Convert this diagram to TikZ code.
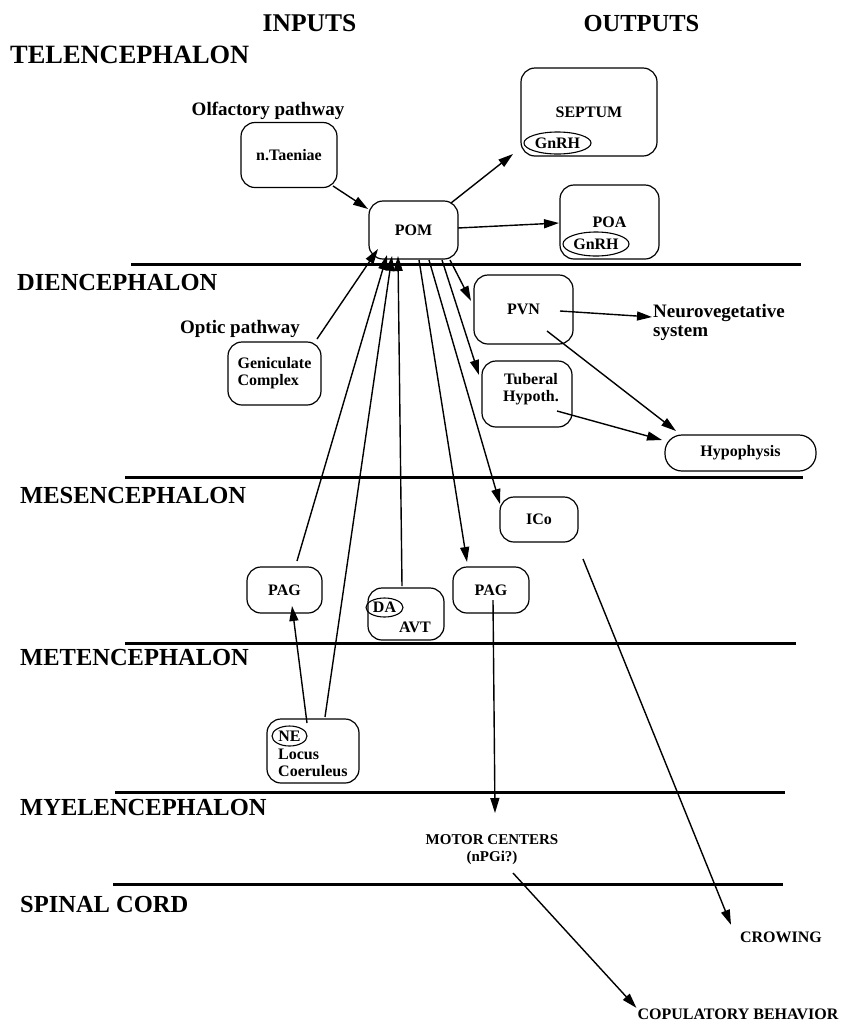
\documentclass[tikz,border=0pt]{standalone}
\usepackage{fontspec}
\setmainfont{Liberation Serif}
\usetikzlibrary{arrows.meta,shapes.geometric,calc}
\begin{document}
\begin{tikzpicture}[x=1pt,y=-1pt,
  box/.style={draw, rounded corners=14pt, line width=1.2pt, inner sep=0pt, align=center, font=\fontsize{16}{17}\selectfont\bfseries},
  oval/.style={draw, ellipse, line width=1.1pt, inner sep=0pt, font=\fontsize{16}{17}\selectfont\bfseries},
  lbl/.style={inner sep=0pt, font=\fontsize{16}{17}\selectfont\bfseries},
  region/.style={anchor=base west, inner sep=0pt, font=\fontsize{24.5}{26}\selectfont\bfseries},
  pathlbl/.style={inner sep=0pt, font=\fontsize{19}{19}\selectfont\bfseries},
  conn/.style={line width=1.4pt, -{Triangle[length=15pt,width=9pt]}},
  divider/.style={line width=3pt}
]
\fill[white] (0,0) rectangle (846,1026);
\useasboundingbox (0,0) rectangle (846,1026);

% headings
\node[region, anchor=base, font=\fontsize{25.5}{27}\selectfont\bfseries] (inp) at (309.5,31) {INPUTS};
\node[region, anchor=base] (outp) at (641.5,31) {OUTPUTS};

% region labels
\node[region, font=\fontsize{26.4}{28}\selectfont\bfseries] (tel) at (10,63) {TELENCEPHALON};
\node[region] (die) at (17,290) {DIENCEPHALON};
\node[region] (mes) at (20,503) {MESENCEPHALON};
\node[region] (met) at (20,665) {METENCEPHALON};
\node[region] (mye) at (20,815) {MYELENCEPHALON};
\node[region] (spi) at (20,912) {SPINAL CORD};

% dividers
\draw[divider] (131,264) -- (801,264);
\draw[divider] (125,477) -- (803,477);
\draw[divider] (125,643) -- (796,643);
\draw[divider] (115,792) -- (785,792);
\draw[divider] (113,884) -- (783,884);

% boxes
\node[box, minimum width=96pt, minimum height=65pt] (tae) at (289,155) {n.Taeniae};
\node[box, minimum width=89pt, minimum height=58pt] (pom) at (413.5,230) {POM};
\node[box, minimum width=136pt, minimum height=88pt] (sep) at (589,112) {SEPTUM};
\node[oval, minimum width=67pt, minimum height=22pt] (gnrh1) at (557.5,143) {GnRH};
\node[box, minimum width=99pt, minimum height=74pt] (poa) at (609.5,222) {POA};
\node[oval, minimum width=66pt, minimum height=24pt] (gnrh2) at (596,244) {GnRH};
\node[box, minimum width=99pt, minimum height=69pt] (pvn) at (523.5,309.5) {PVN};
\node[box, minimum width=90pt, minimum height=66pt] (tub) at (527,394) {};
\node[lbl, align=center] (tubt) at (531,389) {Tuberal\\Hypoth.};
\node[box, minimum width=93pt, minimum height=63pt, align=left] (gen) at (274.5,373.5) {Geniculate\\Complex};
\node[box, minimum width=151pt, minimum height=36pt, rounded corners=17pt] (hyp) at (740.5,453) {Hypophysis};
\node[box, minimum width=78pt, minimum height=45pt] (ico) at (539,519.5) {ICo};
\node[box, minimum width=75pt, minimum height=46pt] (pagl) at (284.5,590) {PAG};
\node[box, minimum width=76pt, minimum height=52pt] (avt) at (406,614) {};
\node[oval, minimum width=37pt, minimum height=19pt] (da) at (384.5,607.5) {DA};
\node[lbl] (avtt) at (415,627) {AVT};
\node[box, minimum width=76pt, minimum height=46pt] (pagr) at (491,590) {PAG};
\node[box, minimum width=92pt, minimum height=64pt] (lc) at (313,751) {};
\node[oval, minimum width=35pt, minimum height=20pt] (ne) at (289.5,736) {NE};
\node[lbl, align=left, anchor=west] (lct) at (278,762.5) {Locus\\Coeruleus};

% free labels
\node[pathlbl, anchor=base] (olf) at (268,115) {Olfactory pathway};
\node[pathlbl, anchor=base] (opt) at (240,333) {Optic pathway};
\node[pathlbl, align=left, anchor=west] (neuro) at (653,322) {Neurovegetative\\system};
\node[lbl, align=center, font=\fontsize{15}{17}\selectfont\bfseries] (motor) at (492,850) {MOTOR CENTERS\\(nPGi?)};
\node[lbl, anchor=base] (crow) at (781,942) {CROWING};
\node[lbl, anchor=base] (cop) at (738,1019) {COPULATORY BEHAVIOR};

% connectors
\draw[conn] ($(tae.center)+(44,31)$) -- ($(pom.center)+(-45.5,-21)$);
\draw[conn] ($(pom.center)+(37.5,-27)$) -- ($(sep.center)+(-76,42)$);
\draw[conn] ($(pom.center)+(44.5,-2)$) -- ($(poa.center)+(-50.5,1)$);
\draw[conn] ($(pvn.center)+(36.5,1.5)$) -- ($(neuro.west)+(-1,-5)$);
\draw[conn] ($(pvn.center)+(23.5,21.5)$) -- ($(hyp.center)+(-64.5,-22)$);
\draw[conn] ($(tub.center)+(30,17)$) -- ($(hyp.center)+(-78.5,-13)$);
\draw[conn] ($(pom.center)+(36.5,30)$) -- ($(pvn.center)+(-52.5,-8.5)$);
\draw[conn] ($(pom.center)+(28.5,30)$) -- ($(tub.center)+(-48,-19)$);
\draw[conn] ($(pom.center)+(15.5,30)$) -- ($(ico.center)+(-39,-15.5)$);
\draw[conn] ($(pom.center)+(5.5,30)$) -- ($(pagr.center)+(-24,-28)$);
\draw[conn] ($(gen.center)+(42.5,-34.5)$) -- ($(pom.center)+(-35.5,19)$);
\draw[conn] ($(pagl.center)+(12.5,-29)$) -- ($(pom.center)+(-26.5,25)$);
\draw[conn] ($(lc.center)+(12,-34)$) -- ($(pom.center)+(-21.5,26)$);
\draw[conn] ($(avt.center)+(-4,-28)$) -- ($(pom.center)+(-15.5,26)$);
\draw[conn] ($(lc.center)+(-6,-28)$) -- ($(pagl.center)+(7.5,16)$);
\draw[conn] ($(pagr.center)+(2,10)$) -- ($(motor.center)+(3,-37)$);
\draw[conn] ($(motor.center)+(21,23)$) -- ($(cop.west)+(-1,-6)$);
\draw[conn] ($(ico.center)+(44,39.5)$) -- ($(crow.center)+(-50,-12)$);
\end{tikzpicture}
\end{document}
